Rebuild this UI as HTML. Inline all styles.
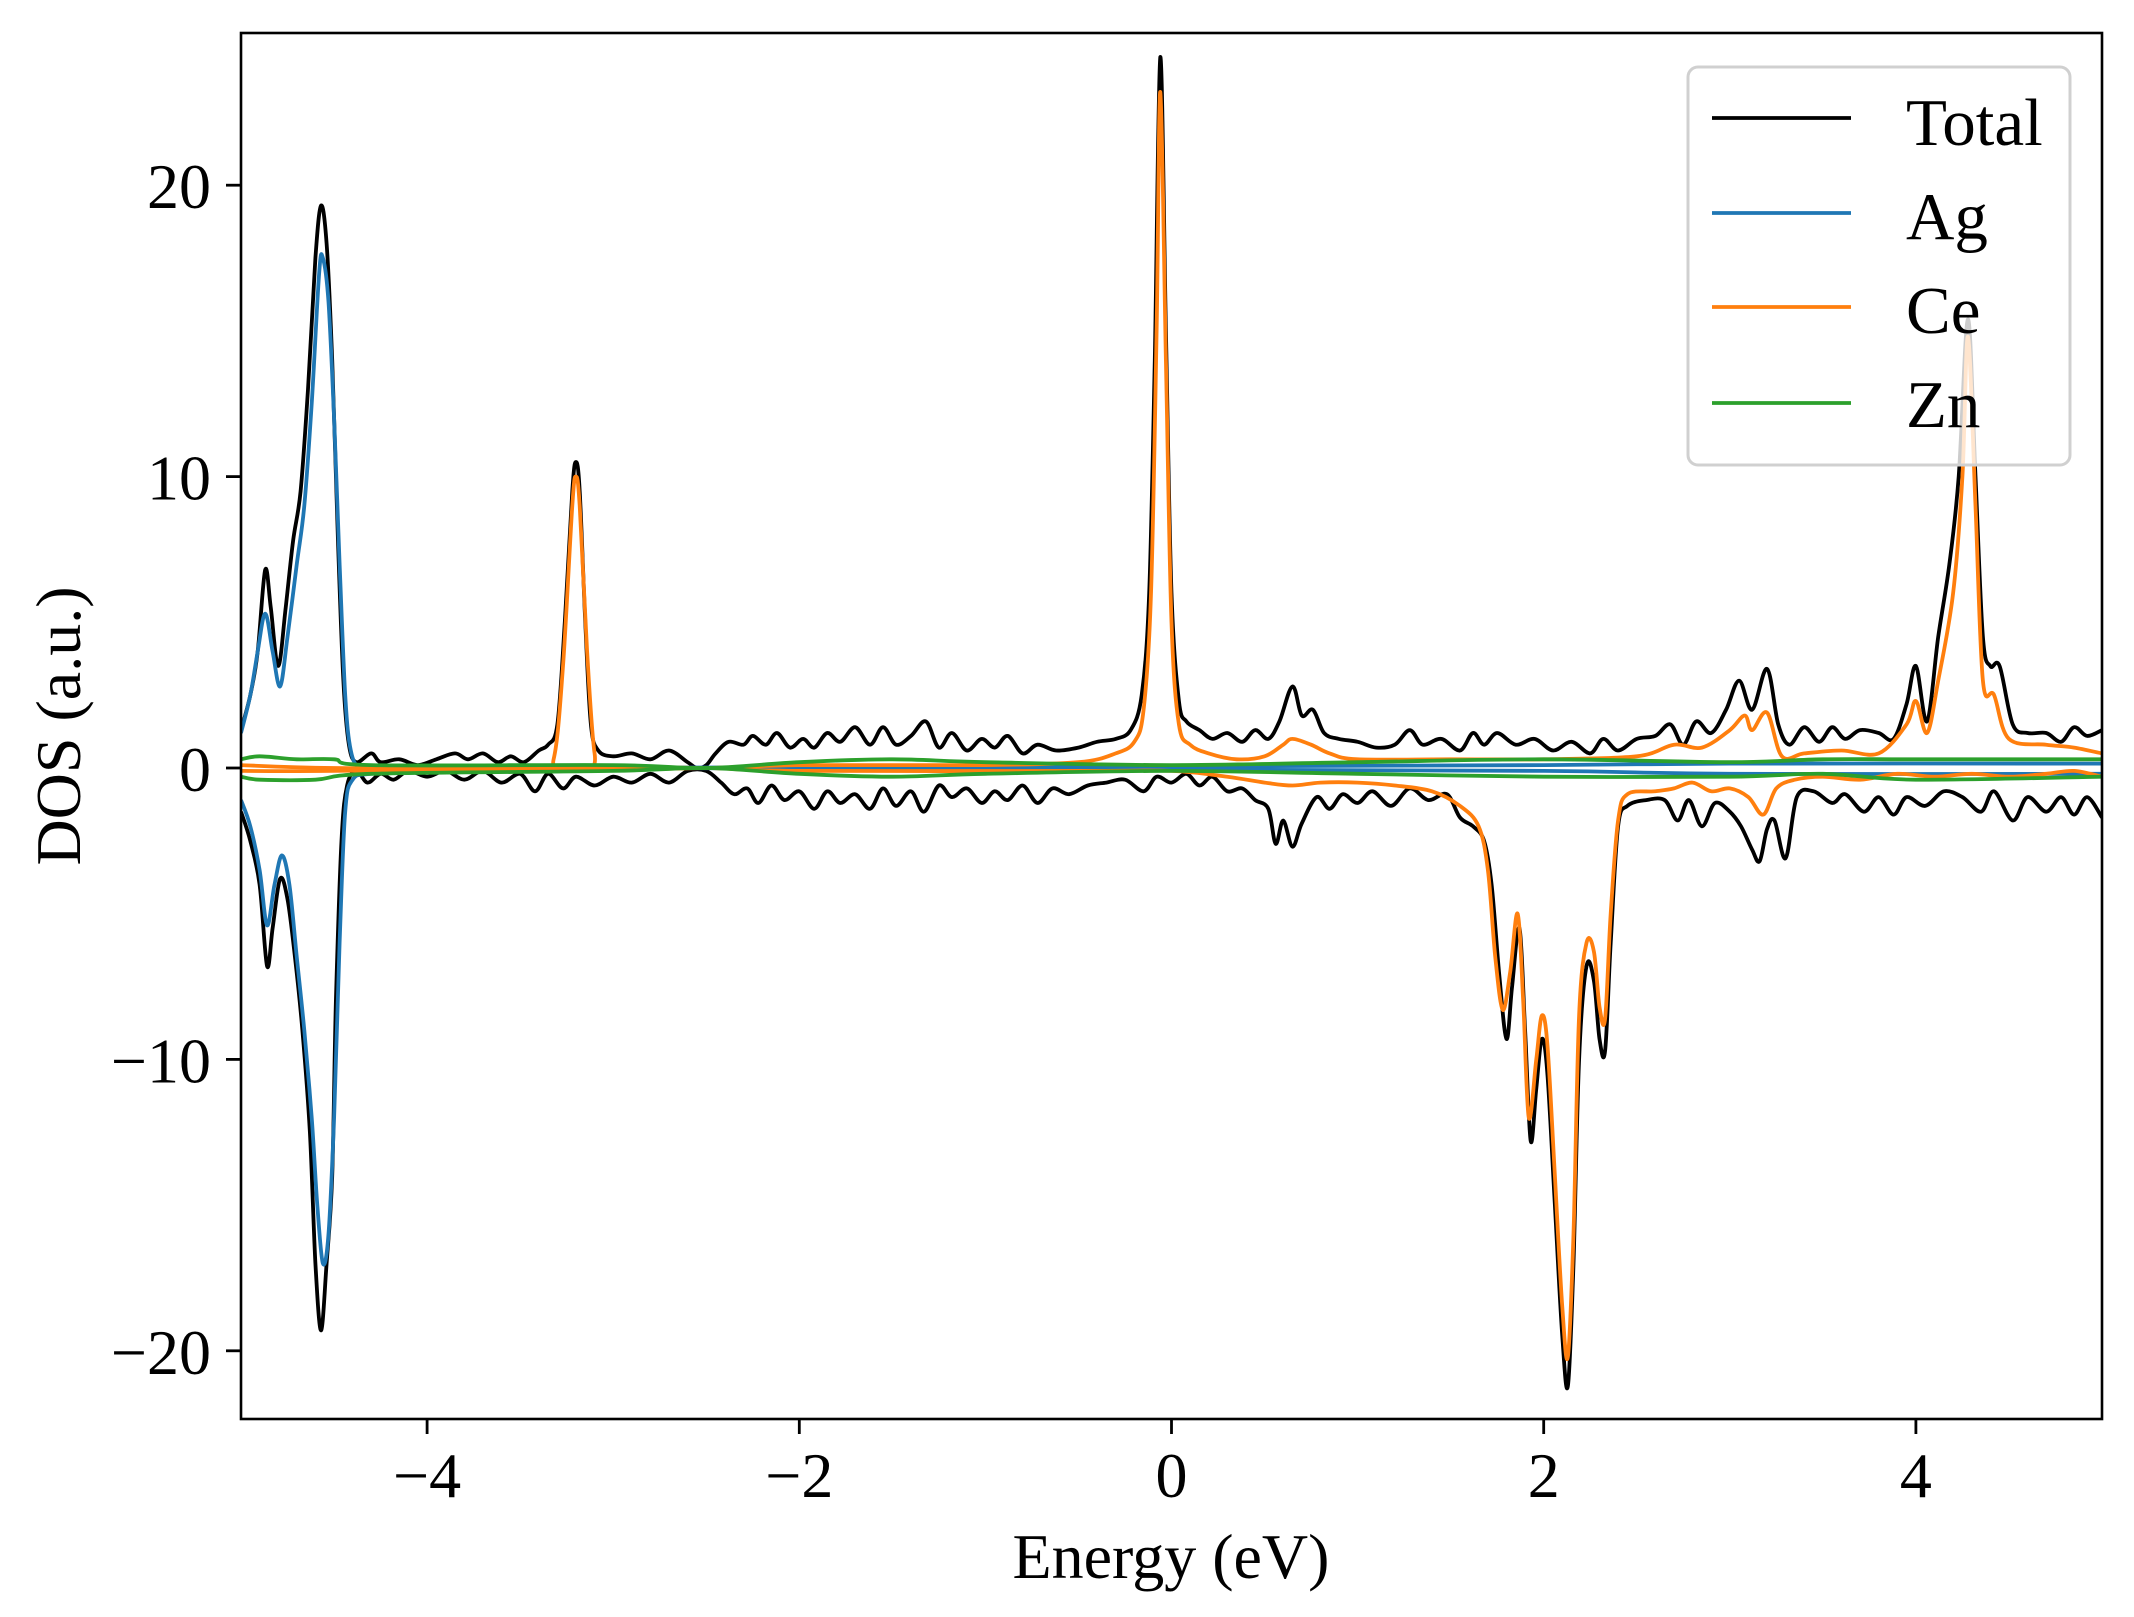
<!DOCTYPE html>
<html><head><meta charset="utf-8"><style>
html,body{margin:0;padding:0;background:#fff;}
svg{display:block;font-family:"Liberation Serif","DejaVu Serif",serif;}
</style></head><body>
<svg id="chart" width="2134" height="1617" viewBox="0 0 2134 1617" xmlns="http://www.w3.org/2000/svg">
<defs><clipPath id="clip"><rect x="241" y="33" width="1861" height="1386"/></clipPath></defs>
<rect x="0" y="0" width="2134" height="1617" fill="#fff"/>
<g id="series" clip-path="url(#clip)"></g>
<rect x="241" y="33" width="1861" height="1386" fill="none" stroke="#000" stroke-width="2.6"/>
<g id="xticks"></g>
<g id="yticks"></g>
<text x="1171" y="1578" font-size="64" text-anchor="middle">Energy (eV)</text>
<text transform="translate(80,726) rotate(-90)" font-size="64" text-anchor="middle">DOS (a.u.)</text>
<g>
<rect x="1688" y="67" width="382" height="398" rx="10" fill="#fff" fill-opacity="0.8" stroke="#d0d0d0" stroke-width="3"/>
<g><line x1="1712" y1="118" x2="1851" y2="118" stroke="#000" stroke-width="3.8"/><text x="1906" y="145" font-size="67">Total</text></g>
<g><line x1="1712" y1="213" x2="1851" y2="213" stroke="#1f77b4" stroke-width="3.8"/><text x="1906" y="239" font-size="67">Ag</text></g>
<g><line x1="1712" y1="307" x2="1851" y2="307" stroke="#ff7f0e" stroke-width="3.8"/><text x="1906" y="333" font-size="67">Ce</text></g>
<g><line x1="1712" y1="403" x2="1851" y2="403" stroke="#2ca02c" stroke-width="3.8"/><text x="1906" y="427" font-size="67">Zn</text></g>
</g>
</svg>
<script>
const xTicks = [-4, -2, 0, 2, 4];
const yTicks = [-20, -10, 0, 10, 20];
const totalUpE = [-5.00,-4.95,-4.91,-4.87,-4.84,-4.80,-4.76,-4.72,-4.68,-4.64,-4.60,-4.57,-4.54,-4.51,-4.48,-4.45,-4.42,-4.38,-4.30,-4.25,-4.15,-4.05,-3.95,-3.85,-3.78,-3.70,-3.62,-3.55,-3.48,-3.40,-3.35,-3.30,-3.26,-3.22,-3.20,-3.18,-3.15,-3.12,-3.08,-3.00,-2.90,-2.80,-2.70,-2.60,-2.55,-2.50,-2.45,-2.38,-2.30,-2.25,-2.18,-2.12,-2.05,-1.98,-1.92,-1.85,-1.78,-1.70,-1.62,-1.55,-1.48,-1.40,-1.32,-1.25,-1.18,-1.10,-1.02,-0.95,-0.88,-0.80,-0.72,-0.62,-0.50,-0.40,-0.30,-0.22,-0.16,-0.12,-0.09,-0.06,-0.03,0.00,0.04,0.08,0.15,0.22,0.30,0.38,0.45,0.52,0.58,0.65,0.70,0.76,0.82,0.90,1.00,1.10,1.20,1.28,1.35,1.45,1.55,1.62,1.68,1.75,1.85,1.95,2.05,2.15,2.25,2.32,2.40,2.50,2.60,2.68,2.75,2.82,2.90,2.98,3.05,3.12,3.20,3.26,3.32,3.40,3.48,3.55,3.62,3.70,3.80,3.88,3.95,4.00,4.06,4.12,4.18,4.23,4.28,4.32,4.36,4.40,4.45,4.52,4.60,4.70,4.78,4.85,4.92,5.00];
const totalUpV = [1.3,2.5,4.0,6.8,5.5,3.5,5.5,7.8,9.5,13,17.5,19.3,18,14,8,3,0.8,0.2,0.5,0.2,0.3,0.1,0.3,0.5,0.3,0.5,0.2,0.4,0.2,0.6,0.8,1.5,5,9.5,10.5,9.5,5,1.5,0.6,0.4,0.5,0.3,0.6,0.2,0.0,0.1,0.5,0.9,0.8,1.1,0.8,1.2,0.7,1.0,0.7,1.2,0.9,1.4,0.8,1.4,0.8,1.1,1.6,0.7,1.2,0.6,1.0,0.7,1.1,0.5,0.8,0.6,0.7,0.9,1.0,1.3,2.5,6,14,24.4,15,6,2.3,1.6,1.3,1.0,1.2,0.9,1.3,1.0,1.6,2.8,1.8,2.0,1.2,1.0,0.9,0.7,0.8,1.3,0.8,1.0,0.6,1.2,0.8,1.2,0.8,1.0,0.6,0.9,0.5,1.0,0.6,1.0,1.1,1.5,0.8,1.6,1.2,2.0,3.0,2.0,3.4,1.5,0.8,1.4,0.9,1.4,1.0,1.3,1.2,1.0,2.2,3.5,1.6,4.5,7,10,15.4,10,4.5,3.5,3.5,1.5,1.2,1.2,0.9,1.4,1.1,1.3];
const totalDnE = [-5.00,-4.95,-4.90,-4.86,-4.83,-4.79,-4.75,-4.71,-4.67,-4.63,-4.60,-4.57,-4.54,-4.51,-4.49,-4.46,-4.43,-4.38,-4.32,-4.25,-4.18,-4.10,-4.00,-3.90,-3.80,-3.70,-3.60,-3.50,-3.42,-3.35,-3.27,-3.20,-3.10,-3.00,-2.90,-2.80,-2.70,-2.60,-2.50,-2.42,-2.35,-2.28,-2.22,-2.15,-2.08,-2.00,-1.92,-1.85,-1.78,-1.70,-1.62,-1.55,-1.48,-1.40,-1.33,-1.25,-1.18,-1.10,-1.02,-0.95,-0.88,-0.80,-0.72,-0.64,-0.55,-0.45,-0.35,-0.25,-0.15,-0.08,0.00,0.08,0.15,0.22,0.30,0.38,0.45,0.52,0.56,0.60,0.65,0.70,0.78,0.85,0.92,1.00,1.08,1.18,1.28,1.38,1.48,1.55,1.62,1.68,1.72,1.76,1.80,1.83,1.87,1.90,1.93,1.96,1.99,2.02,2.06,2.10,2.13,2.16,2.19,2.23,2.27,2.30,2.33,2.36,2.40,2.45,2.55,2.65,2.72,2.78,2.85,2.92,3.00,3.06,3.12,3.16,3.20,3.24,3.30,3.36,3.45,3.55,3.62,3.72,3.80,3.88,3.95,4.05,4.15,4.25,4.35,4.42,4.52,4.60,4.70,4.78,4.85,4.92,5.00];
const totalDnV = [-1.5,-2.5,-4,-6.8,-5.5,-3.8,-4.5,-6.5,-9,-12.5,-17,-19.3,-17,-14,-8,-2.5,-0.6,-0.1,-0.5,-0.2,-0.4,-0.1,-0.3,-0.1,-0.4,-0.1,-0.5,-0.2,-0.8,-0.2,-0.7,-0.3,-0.6,-0.3,-0.5,-0.2,-0.5,-0.1,-0.1,-0.5,-0.9,-0.7,-1.2,-0.6,-1.1,-0.8,-1.4,-0.8,-1.2,-0.9,-1.4,-0.7,-1.3,-0.8,-1.5,-0.6,-1.0,-0.7,-1.2,-0.8,-1.1,-0.6,-1.2,-0.7,-0.9,-0.6,-0.5,-0.4,-0.8,-0.3,-0.5,-0.2,-0.6,-0.3,-0.8,-0.7,-1.1,-1.4,-2.6,-1.8,-2.7,-1.9,-1.0,-1.4,-0.9,-1.2,-0.8,-1.3,-0.7,-1.1,-0.9,-1.7,-2.0,-2.5,-4,-7,-9.3,-7.5,-5.5,-9,-12.8,-11,-9.3,-10.5,-15,-19.5,-21.2,-17,-10,-6.8,-7.3,-9.3,-9.7,-6,-2,-1.3,-1.1,-1.1,-1.8,-1.1,-2.0,-1.2,-1.5,-2.0,-2.8,-3.2,-2.1,-1.8,-3.1,-1.0,-0.8,-1.2,-0.9,-1.5,-1.0,-1.6,-1.0,-1.3,-0.8,-1.0,-1.5,-0.8,-1.8,-1.0,-1.5,-1.0,-1.6,-1.0,-1.7];
const agUpE = [-5.00,-4.95,-4.91,-4.87,-4.83,-4.79,-4.75,-4.70,-4.66,-4.62,-4.58,-4.56,-4.53,-4.50,-4.47,-4.44,-4.41,-4.36,-4.25,-3.50,0.00,2.00,3.00,5.00];
const agUpV = [1.2,2.5,4,5.3,4,2.8,4.5,7,9,12.5,17,17.5,16,12,7,2.5,0.6,0.0,-0.1,0.0,0.05,0.1,0.15,0.15];
const agDnE = [-5.00,-4.95,-4.90,-4.86,-4.82,-4.78,-4.74,-4.70,-4.66,-4.62,-4.59,-4.56,-4.53,-4.50,-4.47,-4.44,-4.40,-4.30,-4.00,-3.00,0.00,2.00,3.00,5.00];
const agDnV = [-1.1,-2,-3.5,-5.4,-4,-3,-4,-6.5,-9,-12,-15,-17,-16,-12,-6,-1.5,-0.4,-0.2,-0.1,0.0,-0.05,-0.1,-0.2,-0.2];
const ceUpE = [-5.00,-4.50,-3.40,-3.32,-3.27,-3.22,-3.20,-3.18,-3.14,-3.10,-3.05,-2.50,-2.00,-1.00,-0.50,-0.30,-0.20,-0.15,-0.11,-0.08,-0.06,-0.03,0.00,0.04,0.10,0.20,0.35,0.50,0.60,0.65,0.75,0.85,1.00,1.50,2.00,2.50,2.70,2.85,3.00,3.08,3.12,3.20,3.28,3.40,3.60,3.80,3.95,4.00,4.06,4.12,4.20,4.25,4.28,4.32,4.36,4.42,4.50,4.70,4.85,5.00];
const ceUpV = [0.1,0.0,0.0,0.3,3.5,9,10,9,4,0.5,0.0,0.0,0.1,0.1,0.2,0.5,0.9,2,6,15,23.2,14,5,1.5,0.8,0.5,0.3,0.4,0.8,1.0,0.8,0.5,0.3,0.3,0.3,0.4,0.8,0.7,1.3,1.8,1.3,1.9,0.4,0.5,0.6,0.5,1.5,2.3,1.2,3,6,10,14.8,9,3,2.5,1.0,0.8,0.7,0.5];
const ceDnE = [-5.00,-4.50,-3.00,-2.50,-2.00,-0.50,0.00,0.30,0.50,0.65,0.80,1.00,1.20,1.40,1.55,1.65,1.70,1.74,1.78,1.82,1.86,1.89,1.92,1.96,1.99,2.02,2.06,2.10,2.13,2.16,2.19,2.23,2.27,2.30,2.33,2.36,2.40,2.45,2.60,2.70,2.80,2.90,3.00,3.10,3.18,3.25,3.35,3.50,3.70,3.90,4.10,4.30,4.50,4.70,4.85,5.00];
const ceDnV = [-0.1,-0.1,0.0,0.0,-0.1,-0.1,-0.1,-0.3,-0.5,-0.6,-0.5,-0.5,-0.6,-0.8,-1.3,-2.0,-3.5,-6.5,-8.3,-7,-5,-8,-12,-10,-8.5,-9.5,-14,-18.5,-20.2,-16,-8.5,-6,-6.3,-8.2,-8.6,-5,-1.8,-0.9,-0.8,-0.7,-0.5,-0.8,-0.7,-1.0,-1.6,-0.7,-0.4,-0.3,-0.4,-0.2,-0.3,-0.2,-0.3,-0.2,-0.1,-0.3];
const znUpE = [-5.0,-4.9,-4.7,-4.5,-4.3,-3.0,-2.5,-2.0,-1.5,-1.0,0.0,1.0,2.0,3.0,3.5,4.0,5.0];
const znUpV = [0.3,0.4,0.3,0.3,0.1,0.1,0.0,0.2,0.3,0.2,0.1,0.2,0.3,0.2,0.3,0.3,0.3];
const znDnE = [-5.0,-4.9,-4.6,-4.3,-3.0,-2.5,-2.0,-1.5,-1.0,0.0,1.0,2.0,3.0,3.5,4.0,5.0];
const znDnV = [-0.3,-0.4,-0.4,-0.2,-0.1,0.0,-0.2,-0.3,-0.2,-0.1,-0.2,-0.3,-0.3,-0.2,-0.4,-0.3];

const NS = 'http://www.w3.org/2000/svg';
const X0 = 241, X1 = 2102, XMIN = -5, XMAX = 5;
const Y0PIX = 768, YSCALE = 29.14;
function xScale(e){ return X0 + (e - XMIN) / (XMAX - XMIN) * (X1 - X0); }
function yScale(v){ return Y0PIX - v * YSCALE; }

function pathFrom(es, vs){
  const p = es.map((e,i)=>[xScale(e), yScale(vs[i])]);
  let d = 'M' + p[0][0].toFixed(1) + ',' + p[0][1].toFixed(1);
  for (let i=0;i<p.length-1;i++){
    const a = p[Math.max(0,i-1)], b = p[i], c = p[i+1], n = p[Math.min(p.length-1,i+2)];
    const t = 0.5/3;
    const c1x = b[0] + (c[0]-a[0])*t, c1y = b[1] + (c[1]-a[1])*t;
    const c2x = c[0] - (n[0]-b[0])*t, c2y = c[1] - (n[1]-b[1])*t;
    d += ' C' + c1x.toFixed(1)+','+c1y.toFixed(1)+' '+c2x.toFixed(1)+','+c2y.toFixed(1)+' '+c[0].toFixed(1)+','+c[1].toFixed(1);
  }
  return d;
}
const g = document.getElementById('series');
function addLine(es, vs, color, name){
  const el = document.createElementNS(NS,'path');
  el.setAttribute('d', pathFrom(es, vs));
  el.setAttribute('fill','none');
  el.setAttribute('stroke', color);
  el.setAttribute('stroke-width','3.8');
  el.setAttribute('stroke-linejoin','round');
  
  
  g.appendChild(el);
}
addLine(totalUpE, totalUpV, '#000', 'total-dos-up');
addLine(totalDnE, totalDnV, '#000', 'total-dos-down');
addLine(agUpE, agUpV, '#1f77b4', 'ag-dos-up');
addLine(agDnE, agDnV, '#1f77b4', 'ag-dos-down');
addLine(ceUpE, ceUpV, '#ff7f0e', 'ce-dos-up');
addLine(ceDnE, ceDnV, '#ff7f0e', 'ce-dos-down');
addLine(znUpE, znUpV, '#2ca02c', 'zn-dos-up');
addLine(znDnE, znDnV, '#2ca02c', 'zn-dos-down');

const gx = document.getElementById('xticks');
xTicks.forEach(t=>{
  const x = xScale(t);
  const ln = document.createElementNS(NS,'line');
  ln.setAttribute('x1',x); ln.setAttribute('x2',x); ln.setAttribute('y1',1419); ln.setAttribute('y2',1434);
  ln.setAttribute('stroke','#000'); ln.setAttribute('stroke-width','2.8');
  
  
  gx.appendChild(ln);
  const tx = document.createElementNS(NS,'text');
  tx.setAttribute('x', x); tx.setAttribute('y', 1497); tx.setAttribute('font-size','64'); tx.setAttribute('text-anchor','middle');
  tx.textContent = t < 0 ? '\u2212' + Math.abs(t) : String(t);
  
  
  gx.appendChild(tx);
});
const gy = document.getElementById('yticks');
yTicks.forEach(t=>{
  const y = yScale(t);
  const ln = document.createElementNS(NS,'line');
  ln.setAttribute('x1',226); ln.setAttribute('x2',241); ln.setAttribute('y1',y); ln.setAttribute('y2',y);
  ln.setAttribute('stroke','#000'); ln.setAttribute('stroke-width','2.8');
  
  
  gy.appendChild(ln);
  const tx = document.createElementNS(NS,'text');
  tx.setAttribute('x', 211); tx.setAttribute('y', y + 23); tx.setAttribute('font-size','64'); tx.setAttribute('text-anchor','end');
  tx.textContent = t < 0 ? '\u2212' + Math.abs(t) : String(t);
  
  
  gy.appendChild(tx);
});
</script>
</body></html>
